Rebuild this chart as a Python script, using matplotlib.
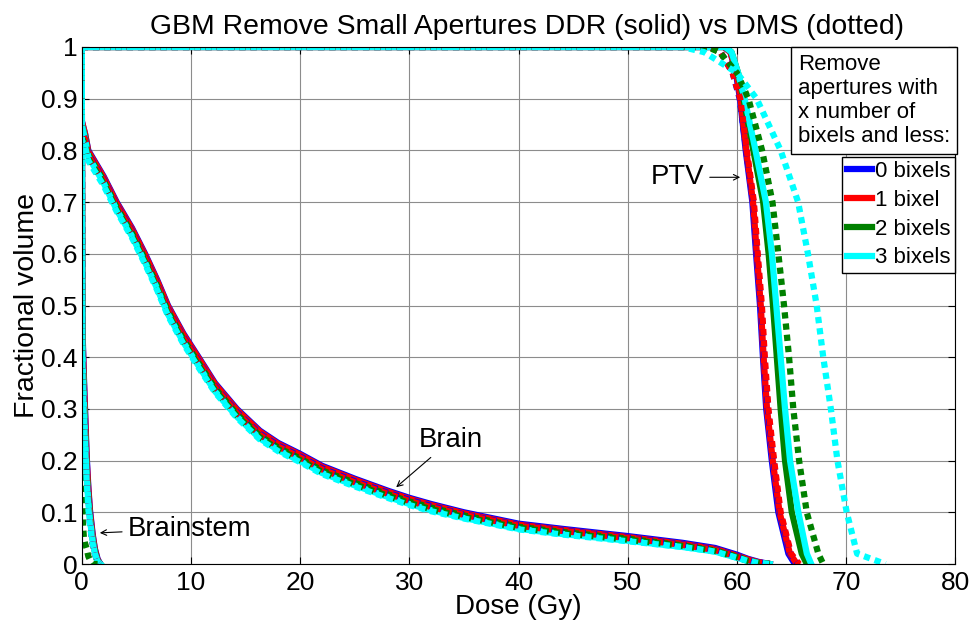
import matplotlib
matplotlib.use("Agg")
import matplotlib.pyplot as plt

plt.rcParams['font.family'] = ['Liberation Sans', 'DejaVu Sans']

series_labels = ['0 bixels', '1 bixel', '2 bixels', '3 bixels']
series_colors = ['#0000ff', '#ff0000', '#008000', '#00ffff']

# PTV: dose (Gy) at given fractional volumes
ptv_vol = [1, 1, 0.99, 0.95, 0.9, 0.8, 0.7, 0.6, 0.5, 0.4, 0.3, 0.2, 0.1, 0.02, 0]
ptv_ddr = [
    [0, 58.8, 59.4, 59.9, 60.28, 60.8, 61.41, 61.75, 62.11, 62.38, 62.68, 63.19, 63.79, 64.71, 65.3],
    [0, 58.8, 59.4, 59.95, 60.33, 60.85, 61.47, 61.82, 62.18, 62.44, 62.75, 63.28, 63.9, 64.85, 65.5],
    [0, 58.9, 59.5, 60.1, 60.6, 61.5, 62.4, 62.9, 63.3, 63.65, 64.0, 64.4, 65.02, 65.93, 66.4],
    [0, 58.9, 59.5, 60.1, 60.7, 61.7, 62.65, 63.2, 63.6, 64.0, 64.4, 64.86, 65.62, 66.4, 66.8],
]
ptv_dms = [
    [0, 57.5, 58.5, 59.6, 60.25, 60.85, 61.5, 61.85, 62.22, 62.5, 62.82, 63.35, 63.95, 64.9, 65.6],
    [0, 57.5, 58.5, 59.6, 60.3, 60.9, 61.55, 61.9, 62.28, 62.55, 62.88, 63.4, 64.0, 64.95, 65.7],
    [0, 57.3, 58.4, 60.0, 61.05, 62.3, 63.25, 63.79, 64.31, 64.77, 65.16, 65.69, 66.39, 67.45, 67.9],
    [0, 55.0, 57.0, 60.0, 61.8, 64.0, 65.6, 66.5, 67.3, 67.9, 68.6, 69.2, 70.05, 71.0, 73.6],
]

# Brain: fractional volume at given doses
brain_dose = [0, 0, 0.3, 0.6, 2, 3.2, 4.6, 5.8, 6.9, 7.9, 9.3, 10.7, 12.2, 14.2, 16.3, 18,
              20, 22, 25, 28, 30, 32, 35, 40, 44, 50, 55, 58, 60, 61, 62, 63]
brain_ddr = [
    [1, .857, .833, .800, .750, .700, .650, .600, .550, .500, .446, .400, .350, .300, .258, .234,
     .213, .190, .165, .142, .128, .116, .100, .078, .068, .054, .041, .031, .018, .010, .004, 0],
    [1, .857, .832, .798, .748, .698, .648, .598, .548, .498, .444, .398, .348, .298, .256, .232,
     .211, .188, .163, .140, .126, .114, .098, .076, .066, .052, .039, .029, .016, .009, .003, 0],
    [1, .850, .826, .792, .742, .690, .640, .589, .539, .489, .435, .389, .340, .290, .248, .225,
     .204, .181, .157, .135, .121, .109, .094, .072, .062, .049, .036, .026, .014, .007, .002, 0],
    [1, .850, .822, .788, .737, .685, .634, .583, .533, .483, .429, .383, .334, .285, .243, .220,
     .199, .176, .152, .130, .116, .104, .089, .068, .058, .045, .033, .024, .012, .006, .002, 0],
]
brain_dms = [
    [1, .835, .822, .792, .744, .694, .644, .593, .543, .493, .439, .393, .344, .294, .252, .229,
     .208, .185, .160, .138, .124, .112, .096, .075, .065, .051, .038, .028, .015, .008, .003, 0],
    [1, .835, .821, .790, .742, .692, .642, .591, .541, .491, .437, .391, .342, .292, .250, .227,
     .206, .183, .158, .136, .122, .110, .095, .074, .064, .050, .037, .027, .014, .008, .003, 0],
    [1, .825, .812, .784, .736, .686, .635, .584, .534, .484, .430, .384, .336, .287, .245, .222,
     .201, .178, .154, .132, .118, .106, .091, .070, .060, .047, .035, .025, .013, .006, .002, 0],
    [1, .820, .808, .780, .732, .682, .631, .580, .530, .480, .426, .380, .332, .283, .241, .218,
     .197, .174, .150, .128, .114, .102, .088, .067, .057, .044, .033, .024, .012, .006, .002, 0],
]

# Brainstem
bs_dose = [0, 0.05, 0.1, 0.2, 0.3, 0.45, 0.6, 0.75, 1.0, 1.2, 1.45, 1.7]
bs_ddr = [
    [1, 0.50, 0.43, 0.36, 0.30, 0.21, 0.15, 0.105, 0.058, 0.030, 0.010, 0],
    [1, 0.48, 0.42, 0.35, 0.29, 0.20, 0.145, 0.100, 0.055, 0.028, 0.008, 0],
    [1, 0.45, 0.39, 0.32, 0.26, 0.18, 0.13, 0.090, 0.048, 0.024, 0.006, 0],
    [1, 0.44, 0.38, 0.31, 0.25, 0.17, 0.12, 0.085, 0.045, 0.020, 0.005, 0],
]
bs_dms = [
    [1, 0.42, 0.36, 0.29, 0.24, 0.17, 0.12, 0.080, 0.040, 0.020, 0.005, 0],
    [1, 0.42, 0.36, 0.29, 0.24, 0.17, 0.12, 0.080, 0.040, 0.020, 0.005, 0],
    [1, 0.15, 0.08, 0.05, 0.04, 0.03, 0.015, 0.008, 0, 0, 0, 0],
    [1, 0.40, 0.34, 0.28, 0.23, 0.16, 0.11, 0.075, 0.040, 0.020, 0.005, 0],
]

lw = 4.5
dot = (0, (1, 0.8))

fig = plt.figure(figsize=(9.72, 6.25), dpi=100)
ax = fig.add_axes([0.0841, 0.0976, 0.8988, 0.8272])

handles = []
for i in range(4):
    c = series_colors[i]
    h, = ax.plot(ptv_ddr[i], ptv_vol, color=c, lw=lw)
    ax.plot(brain_dose, brain_ddr[i], color=c, lw=lw)
    ax.plot(bs_dose, bs_ddr[i], color=c, lw=lw)
    handles.append(h)
for i in range(4):
    c = series_colors[i]
    ax.plot(ptv_dms[i], ptv_vol, color=c, lw=lw, ls=dot)
    ax.plot(brain_dose, brain_dms[i], color=c, lw=lw, ls=dot)
    ax.plot(bs_dose, bs_dms[i], color=c, lw=lw, ls=dot)

ax.set_xlim(0, 80)
ax.set_ylim(0, 1)
ax.set_xticks(range(0, 81, 10))
ax.set_yticks([i / 10 for i in range(11)])
ax.set_yticklabels(['0'] + ['%.1f' % (i / 10) for i in range(1, 10)] + ['1'])
ax.tick_params(direction='in', length=5, width=0.8, top=True, right=True, labelsize=19)
ax.tick_params(axis='x', pad=5)
ax.tick_params(axis='y', pad=3)
ax.grid(True, color='#8c8c8c', lw=0.8)
for s in ax.spines.values():
    s.set_linewidth(0.8)

ax.set_xlabel('Dose (Gy)', fontsize=20, labelpad=-1)
ax.set_ylabel('Fractional volume', fontsize=20.5, labelpad=1)
ax.set_title('GBM Remove Small Apertures DDR (solid) vs DMS (dotted)', fontsize=20.4, pad=9.5, x=0.51)

arrow = dict(arrowstyle='->', color='black', lw=0.8, mutation_scale=10)
ax.annotate('PTV', xy=(60.55, 0.748), xytext=(57.0, 0.748), fontsize=19.8,
            ha='right', va='center', arrowprops=arrow)
ax.annotate('Brain', xy=(28.6, 0.145), xytext=(30.9, 0.215), fontsize=19.8,
            ha='left', va='bottom', arrowprops=arrow)
ax.annotate('Brainstem', xy=(1.4, 0.06), xytext=(4.2, 0.068), fontsize=19.8,
            ha='left', va='center', arrowprops=arrow)

ax.text(0.994, 0.987, 'Remove\napertures with\nx number of\nbixels and less:',
        transform=ax.transAxes, ha='right', va='top', multialignment='left',
        fontsize=16, linespacing=1.2,
        bbox=dict(boxstyle='square,pad=0.3', fc='white', ec='black', lw=1), zorder=5)
leg = ax.legend(handles, series_labels, loc='upper right', bbox_to_anchor=(1.0, 0.788),
                borderaxespad=0, fontsize=16, frameon=True, fancybox=False, framealpha=1,
                edgecolor='black', handlelength=1.15, handletextpad=0.15, borderpad=0.2,
                labelspacing=0.35)
leg.get_frame().set_linewidth(1)
leg.set_zorder(6)

fig.savefig('out.png', dpi=100)
